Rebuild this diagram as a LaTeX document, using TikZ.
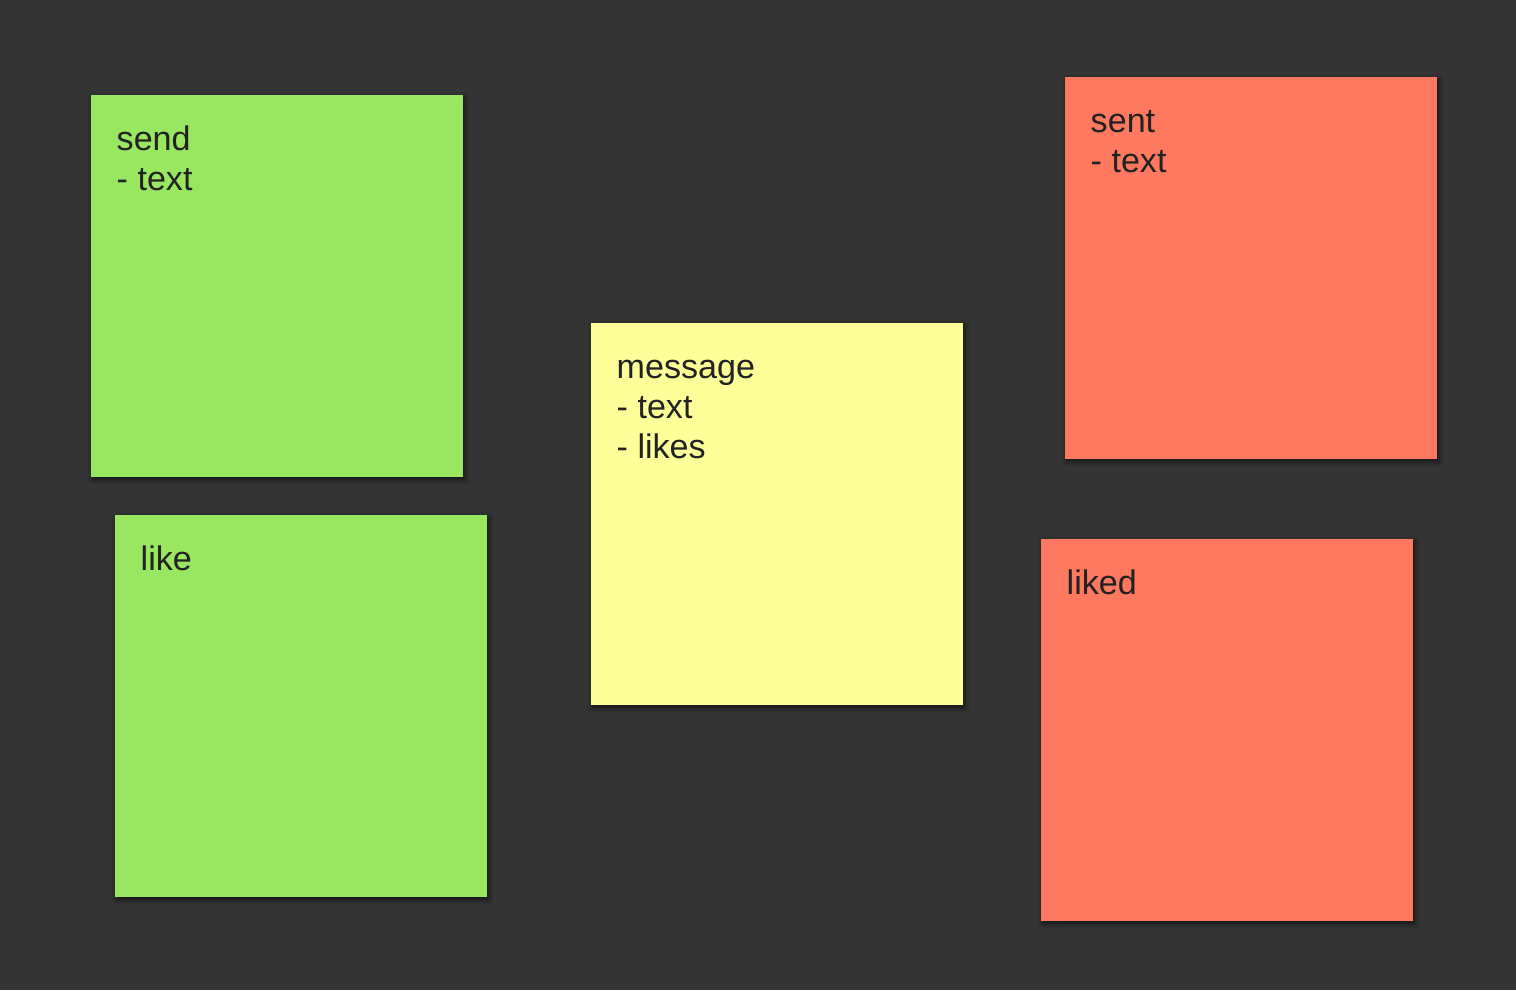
\documentclass[tikz,border=0pt]{standalone}
\usepackage{fontspec}
\setmainfont{Liberation Sans}
\usetikzlibrary{shadows.blur}

\definecolor{board}{HTML}{343434}
\definecolor{notegreen}{HTML}{99E761}
\definecolor{noteyellow}{HTML}{FFFF99}
\definecolor{notered}{HTML}{FF7960}
\definecolor{ink}{HTML}{222222}

\tikzset{
  note/.style={anchor=north west, inner sep=0pt, minimum width=3.72cm, minimum height=3.82cm,
    blur shadow={shadow xshift=0.02cm, shadow yshift=-0.03cm, shadow blur radius=0.05cm,
      shadow blur steps=6, shadow opacity=60}},
  notetext/.style={anchor=base west, inner sep=0pt, text=ink,
    font=\fontsize{9.7}{11.4}\selectfont}
}
\newcommand{\lines}[1]{\begin{tabular}[t]{@{}l@{}}#1\end{tabular}}

\begin{document}
\begin{tikzpicture}[x=0.01cm, y=-0.01cm]
% Board
\fill[board] (0, 0) rectangle (1516, 990);
\useasboundingbox (0, 0) rectangle (1516, 990);

% Commands
\node[note, fill=notegreen] (send) at (90, 94) {};
\node[notetext] (sendtxt) at ([xshift=0.26cm, yshift=-0.56cm]send.north west) {\lines{send\\- text}};

\node[note, fill=notegreen] (like) at (114, 514) {};
\node[notetext] (liketxt) at ([xshift=0.26cm, yshift=-0.56cm]like.north west) {\lines{like}};

% Aggregate
\node[note, fill=noteyellow] (message) at (590, 322) {};
\node[notetext] (messagetxt) at ([xshift=0.26cm, yshift=-0.56cm]message.north west) {\lines{message\\- text\\- likes}};

% Events
\node[note, fill=notered] (sent) at (1064, 76) {};
\node[notetext] (senttxt) at ([xshift=0.26cm, yshift=-0.56cm]sent.north west) {\lines{sent\\- text}};

\node[note, fill=notered] (liked) at (1040, 538) {};
\node[notetext] (likedtxt) at ([xshift=0.26cm, yshift=-0.56cm]liked.north west) {\lines{liked}};

\end{tikzpicture}
\end{document}
